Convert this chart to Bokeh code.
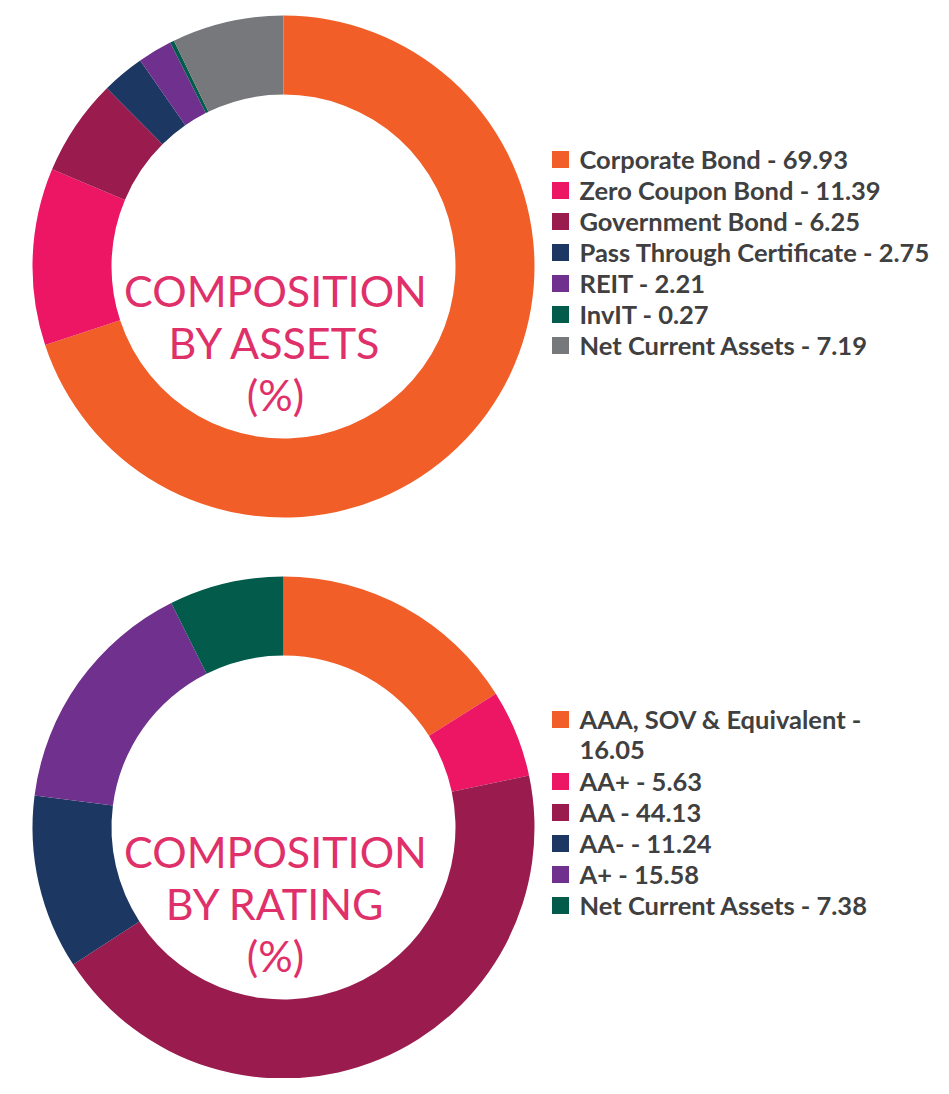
import numpy as np
from bokeh.plotting import figure
from bokeh.models import Range1d, ColumnDataSource
from bokeh.core.properties import value
from bokeh.embed import file_html
from bokeh.resources import INLINE

# ---- data ----
asset_names = ["Corporate Bond", "Zero Coupon Bond", "Government Bond",
               "Pass Through Certificate", "REIT", "InvIT", "Net Current Assets"]
asset_values = [69.93, 11.39, 6.25, 2.75, 2.21, 0.27, 7.19]
asset_colors = ["#F15E28", "#EC1664", "#9A1B4D", "#1C3761", "#70308E", "#035B4B", "#77787B"]

rating_names = ["AAA, SOV & Equivalent", "AA+", "AA", "AA-", "A+", "Net Current Assets"]
rating_values = [16.05, 5.63, 44.13, 11.24, 15.58, 7.38]
rating_colors = ["#F15E28", "#EC1664", "#9A1B4D", "#1C3761", "#70308E", "#035B4B"]
rating_wrapped = ["AAA, SOV & Equivalent"]

asset_title = ["COMPOSITION", "BY ASSETS", "(%)"]
rating_title = ["COMPOSITION", "BY RATING", "(%)"]

# ---- layout ----
IMG_H = 1094
W, H = 945, 1078
TITLE_COLOR = "#E0306A"
TEXT_COLOR = "#404041"

p = figure(width=W, height=H, output_backend="svg", toolbar_location=None,
           x_range=Range1d(0, W), y_range=Range1d(IMG_H - H, IMG_H),
           min_border=0)
p.axis.visible = False
p.grid.visible = False
p.outline_line_color = None
p.background_fill_color = "white"
p.border_fill_color = "white"


def donut(cx, cy_img, values, colors, names, title, legend_x, legend_y_img, wrapped):
    cy = IMG_H - cy_img
    vals = np.array(values, dtype=float)
    frac = np.concatenate([[0], np.cumsum(vals)]) / vals.sum()
    starts = np.pi / 2 - 2 * np.pi * frac[:-1]
    ends = np.pi / 2 - 2 * np.pi * frac[1:]
    src = ColumnDataSource(dict(x=[cx] * len(vals), y=[cy] * len(vals),
                                start=ends, end=starts, color=colors))
    p.annular_wedge(x="x", y="y", inner_radius=172, outer_radius=251,
                    start_angle="start", end_angle="end", color="color",
                    line_color=None, direction="anticlock", source=src)
    # centre title
    ty = [cy - 24 - 52 * i for i in range(len(title))]
    p.text(x=[cx - 8] * len(title), y=ty, text=title, text_color=TITLE_COLOR,
           text_font=value("Lato"), text_font_size="43px",
           text_align="center", text_baseline="alphabetic")
    # legend
    sq_y, lines_x, lines_y, lines_t = [], [], [], []
    row = 0
    step = 31
    for name, v in zip(names, values):
        y0 = IMG_H - (legend_y_img + step * row)
        sq_y.append(y0)
        if name in wrapped:
            parts = [name + " -", f"{v:.2f}"]
        else:
            parts = [f"{name} - {v:.2f}"]
        for k, t in enumerate(parts):
            lines_x.append(legend_x + 19)
            lines_y.append(y0 - step * k + 1)
            lines_t.append(t)
        row += len(parts)
    p.scatter(x=[legend_x] * len(sq_y), y=sq_y, marker="square", size=17,
              color=colors, line_color=None)
    p.text(x=lines_x, y=lines_y, text=lines_t, text_color=TEXT_COLOR,
           text_font=value("Lato"), text_font_style="bold", text_font_size="25.5px",
           text_align="left", text_baseline="middle")


donut(283, 266, asset_values, asset_colors, asset_names, asset_title, 560, 159, [])
donut(283, 827, rating_values, rating_colors, rating_names, rating_title, 560, 719, rating_wrapped)

open("out.html", "w").write(file_html(p, INLINE))
